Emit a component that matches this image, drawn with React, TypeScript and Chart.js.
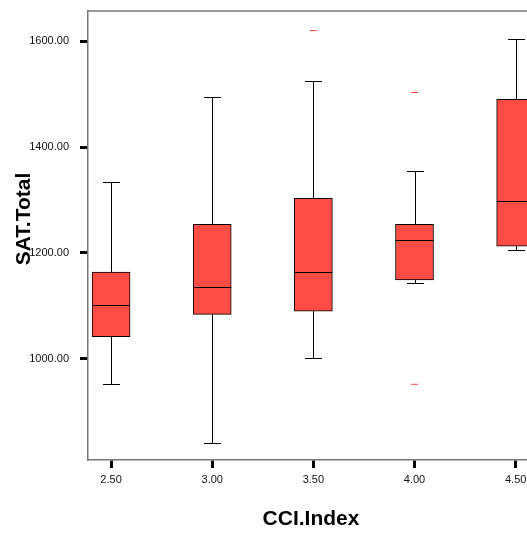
import React, { useEffect, useRef } from 'react';
import { Chart, registerables } from 'chart.js';

Chart.register(...registerables);

const categories = [2.5, 3.0, 3.5, 4.0, 4.5];
const whiskerLow = [952, 841, 1001, 1143, 1205];
const q1 = [1042, 1084, 1090, 1149, 1213];
const median = [1101, 1136, 1164, 1225, 1299];
const q3 = [1164, 1254, 1303, 1254, 1490];
const whiskerHigh = [1334, 1494, 1525, 1355, 1604];
const outlierX = [3.5, 4.0, 4.0];
const outlierY = [1620, 1503, 952];
const yTicks = [1000, 1200, 1400, 1600];
const xTicks = [2.5, 3.0, 3.5, 4.0, 4.5];
const xTitle = 'CCI.Index';
const yTitle = 'SAT.Total';

const X_MIN = 2.386;
const X_PX_PER_UNIT = 202.3;
const BOX_W = 38;
const CAP_W = 17;

const boxExtras = {
  id: 'boxExtras',
  beforeDatasetsDraw(chart: any) {
    const ctx = chart.ctx;
    const xs = chart.scales.x;
    const ys = chart.scales.y;
    ctx.save();
    ctx.strokeStyle = '#000';
    ctx.lineWidth = 1;
    categories.forEach((c, i) => {
      const x = Math.round(xs.getPixelForValue(c)) + 0.5;
      const yHi = Math.round(ys.getPixelForValue(whiskerHigh[i])) + 0.5;
      const yLo = Math.round(ys.getPixelForValue(whiskerLow[i])) + 0.5;
      const yQ3 = ys.getPixelForValue(q3[i]);
      const yQ1 = ys.getPixelForValue(q1[i]);
      ctx.beginPath();
      ctx.moveTo(x, yQ3);
      ctx.lineTo(x, yHi);
      ctx.moveTo(x - CAP_W / 2, yHi);
      ctx.lineTo(x + CAP_W / 2, yHi);
      ctx.moveTo(x, yQ1);
      ctx.lineTo(x, yLo);
      ctx.moveTo(x - CAP_W / 2, yLo);
      ctx.lineTo(x + CAP_W / 2, yLo);
      ctx.stroke();
    });
    ctx.restore();
  },
  afterDatasetsDraw(chart: any) {
    const ctx = chart.ctx;
    const xs = chart.scales.x;
    const ys = chart.scales.y;
    ctx.save();
    ctx.strokeStyle = '#000';
    ctx.lineWidth = 1;
    categories.forEach((c, i) => {
      const x = xs.getPixelForValue(c);
      const y = Math.round(ys.getPixelForValue(median[i])) + 0.5;
      ctx.beginPath();
      ctx.moveTo(x - BOX_W / 2, y);
      ctx.lineTo(x + BOX_W / 2, y);
      ctx.stroke();
    });
    const a = chart.chartArea;
    ctx.strokeStyle = '#777';
    ctx.lineWidth = 1.5;
    ctx.beginPath();
    ctx.moveTo(a.left, a.top);
    ctx.lineTo(a.right, a.top);
    ctx.stroke();
    ctx.restore();
  },
  afterDraw(chart: any) {
    const ctx = chart.ctx;
    ctx.save();
    ctx.fillStyle = '#000';
    ctx.font = 'bold 21px "Liberation Sans", Arial, sans-serif';
    ctx.textAlign = 'center';
    ctx.textBaseline = 'middle';
    ctx.fillText(xTitle, 311, 519);
    ctx.translate(24, 219);
    ctx.rotate(-Math.PI / 2);
    ctx.fillText(yTitle, 0, 0);
    ctx.restore();
  },
};

export default function App() {
  const ref = useRef<HTMLCanvasElement>(null);
  useEffect(() => {
    if (!ref.current) return;
    const chart = new Chart(ref.current, {
      type: 'bar',
      data: {
        datasets: [
          {
            type: 'bar',
            data: categories.map((c, i) => ({ x: c, y: [q1[i], q3[i]] })) as any,
            backgroundColor: 'rgb(255,76,68)',
            borderColor: '#000',
            borderWidth: 1,
            borderSkipped: false,
            barThickness: BOX_W,
          } as any,
          {
            type: 'scatter',
            data: outlierX.map((x, i) => ({ x, y: outlierY[i] })),
            pointStyle: 'line',
            pointRadius: 3.5,
            borderColor: 'rgb(255,70,60)',
            backgroundColor: 'rgb(255,70,60)',
            borderWidth: 1,
            showLine: false,
          } as any,
        ],
      },
      options: {
        responsive: false,
        animation: false,
        layout: { padding: { top: 11, right: 0, left: 0, bottom: 0 } },
        plugins: { legend: { display: false }, tooltip: { enabled: false } },
        scales: {
          x: {
            type: 'linear',
            min: X_MIN,
            max: 4.65,
            offset: false,
            afterDataLimits: (s: any) => {
              s.min = X_MIN;
              s.max = X_MIN + s.width / X_PX_PER_UNIT;
            },
            afterBuildTicks: (s: any) => {
              s.ticks = xTicks.map((v) => ({ value: v }));
            },
            afterFit: (s: any) => {
              s.height = 73;
              s.paddingLeft = 0;
              s.paddingRight = 0;
            },
            grid: {
              offset: false,
              drawOnChartArea: false,
              drawTicks: true,
              tickLength: 8,
              tickWidth: 3,
              tickColor: '#000',
            },
            border: { color: '#777', width: 1.5 },
            ticks: {
              autoSkip: false,
              maxRotation: 0,
              padding: 5,
              color: '#111',
              font: { family: '"Liberation Sans", Arial, sans-serif', size: 11 },
              callback: (v: any) => Number(v).toFixed(2),
            },
          },
          y: {
            type: 'linear',
            min: 809,
            max: 1657,
            afterBuildTicks: (s: any) => {
              s.ticks = yTicks.map((v) => ({ value: v }));
            },
            afterFit: (s: any) => {
              s.width = 88;
              s.paddingTop = 0;
              s.paddingBottom = 0;
            },
            grid: {
              drawOnChartArea: false,
              drawTicks: true,
              tickLength: 8,
              tickWidth: 3,
              tickColor: '#000',
            },
            border: { color: '#777', width: 1.5 },
            ticks: {
              padding: 11,
              color: '#111',
              font: { family: '"Liberation Sans", Arial, sans-serif', size: 11 },
              callback: (v: any) => Number(v).toFixed(2),
            },
          },
        },
      } as any,
      plugins: [boxExtras],
    });
    return () => chart.destroy();
  }, []);
  return (
    <div style={{ position: 'fixed', left: 0, top: 0, width: 527, height: 533, background: '#fff', overflow: 'hidden' }}>
      <canvas ref={ref} width={560} height={533} style={{ display: 'block' }} />
    </div>
  );
}
